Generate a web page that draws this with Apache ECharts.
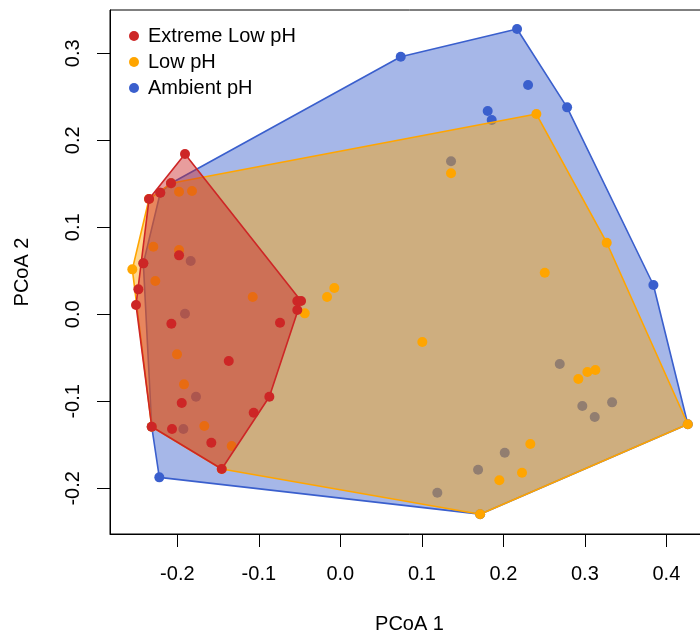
<!DOCTYPE html>
<html><head><meta charset="utf-8">
<script src="https://cdn.jsdelivr.net/npm/echarts@6/dist/echarts.min.js"></script>
<style>html,body{margin:0;padding:0;background:#fff;overflow:hidden}#c{width:709px;height:635px}</style>
</head><body><div id="c"></div>
<script>
const groupNames = ['Extreme Low pH', 'Low pH', 'Ambient pH'];

const extremeLowPH = [
  [-0.1906, 0.1843], [-0.2077, 0.1506], [-0.2209, 0.1398], [-0.2347, 0.1325],
  [-0.1979, 0.0678], [-0.2417, 0.0586], [-0.2478, 0.0287], [-0.2507, 0.0107],
  [-0.2073, -0.0108], [-0.0528, 0.0153], [-0.0482, 0.0153], [-0.0528, 0.0049],
  [-0.0740, -0.0097], [-0.1369, -0.0537], [-0.0871, -0.0947], [-0.1063, -0.1131],
  [-0.1946, -0.1020], [-0.2314, -0.1292], [-0.2065, -0.1318], [-0.1583, -0.1476],
  [-0.1455, -0.1778]
];

const lowPH = [
  [-0.2077, 0.1506], [-0.2347, 0.1325], [-0.2314, -0.1292], [-0.1455, -0.1778],
  [-0.1979, 0.1409], [-0.1820, 0.1417], [-0.2294, 0.0777], [-0.1979, 0.0739],
  [-0.2552, 0.0517], [-0.2270, 0.0383], [-0.1075, 0.0199], [-0.2004, -0.0460],
  [-0.1918, -0.0805], [-0.1669, -0.1284], [-0.1333, -0.1514], [-0.0437, 0.0011],
  [-0.0163, 0.0199], [-0.0074, 0.0302], [0.1358, 0.1621], [0.2405, 0.2302],
  [0.3268, 0.0823], [0.2508, 0.0478], [0.1006, -0.0318], [0.2920, -0.0744],
  [0.3031, -0.0663], [0.3129, -0.0640], [0.2331, -0.1491], [0.2229, -0.1821],
  [0.1951, -0.1908], [0.1715, -0.2297], [0.4263, -0.1264]
];

const ambientPH = [
  [-0.2077, 0.1506], [-0.2209, 0.1398], [-0.2417, 0.0586], [-0.2314, -0.1292],
  [0.1715, -0.2297], [0.4263, -0.1264],
  [0.2168, 0.3279], [0.0741, 0.2961], [0.2303, 0.2636], [0.2782, 0.2379],
  [0.1808, 0.2337], [0.1857, 0.2233], [0.3841, 0.0337], [0.1358, 0.1759],
  [0.2692, -0.0571], [0.2969, -0.1054], [0.3121, -0.1180], [0.3334, -0.1012],
  [0.2017, -0.1591], [0.1690, -0.1786], [0.1190, -0.2050],
  [-0.1836, 0.0613], [-0.1906, 0.0007], [-0.1771, -0.0947], [-0.1926, -0.1318],
  [-0.2221, -0.1874]
];

const xTicks = [-0.2, -0.1, 0.0, 0.1, 0.2, 0.3, 0.4];
const yTicks = [-0.2, -0.1, 0.0, 0.1, 0.2, 0.3];
const xRange = [-0.2826, 0.4523];
const yRange = [-0.2525, 0.3498];

const FONT = '"Liberation Sans", Arial, sans-serif';
const colors = ['#CD2626', '#FFA500', '#3A5FCD'];
const fills = ['rgba(205,38,38,0.45)', 'rgba(255,165,0,0.45)', 'rgba(58,95,205,0.45)'];
const groups = [extremeLowPH, lowPH, ambientPH];

function convexHull(pts) {
  const p = pts.slice().sort((a, b) => a[0] - b[0] || a[1] - b[1]);
  const cross = (o, a, b) => (a[0] - o[0]) * (b[1] - o[1]) - (a[1] - o[1]) * (b[0] - o[0]);
  const lower = [], upper = [];
  for (const q of p) {
    while (lower.length >= 2 && cross(lower[lower.length - 2], lower[lower.length - 1], q) <= 0) lower.pop();
    lower.push(q);
  }
  for (let i = p.length - 1; i >= 0; i--) {
    const q = p[i];
    while (upper.length >= 2 && cross(upper[upper.length - 2], upper[upper.length - 1], q) <= 0) upper.pop();
    upper.push(q);
  }
  return lower.slice(0, -1).concat(upper.slice(0, -1));
}

// drawing order: Ambient (bottom), Low, Extreme (top)
const drawOrder = [2, 1, 0];
const series = [];
drawOrder.forEach((gi, k) => {
  const hull = convexHull(groups[gi]);
  series.push({
    type: 'custom',
    name: 'hull_' + gi,
    coordinateSystem: 'cartesian2d',
    z: 2 + k * 2,
    silent: true,
    clip: false,
    data: [[hull[0][0], hull[0][1]]],
    renderItem: function (params, api) {
      return {
        type: 'polygon',
        shape: { points: hull.map(p => api.coord(p)) },
        style: { fill: fills[gi], stroke: colors[gi], lineWidth: 1.6, lineJoin: 'round' }
      };
    }
  });
  series.push({
    type: 'scatter',
    name: groupNames[gi],
    z: 3 + k * 2,
    symbol: 'circle',
    symbolSize: 10,
    itemStyle: { color: colors[gi], opacity: 1 },
    emphasis: { disabled: true },
    data: groups[gi]
  });
});

const chart = echarts.init(document.getElementById('c'), null, { renderer: 'canvas' });
chart.setOption({
  animation: false,
  backgroundColor: '#fff',
  grid: { left: 110, right: 0, top: 10, bottom: 101, outerBoundsMode: 'none', containLabel: false, show: true, borderColor: '#000', borderWidth: 1, backgroundColor: 'transparent' },
  legend: {
    data: groupNames,
    orient: 'vertical',
    left: 124,
    top: 21,
    itemWidth: 10,
    itemHeight: 10,
    itemGap: 6,
    icon: 'circle',
    selectedMode: false,
    textStyle: { fontSize: 20, lineHeight: 20, color: '#000', fontFamily: FONT, padding: [0, 0, 0, 4] }
  },
  xAxis: {
    type: 'value',
    min: xRange[0],
    max: xRange[1],
    name: 'PCoA 1',
    nameLocation: 'middle',
    nameGap: 90,
    nameTextStyle: { fontSize: 20, color: '#000', fontFamily: FONT, verticalAlign: 'middle', lineHeight: 20 },
    axisLine: { show: true, onZero: false, lineStyle: { color: '#000', width: 1 } },
    axisTick: { show: true, inside: false, length: 13, customValues: xTicks, lineStyle: { color: '#000', width: 1 } },
    axisLabel: {
      show: true, customValues: xTicks, margin: 40, fontSize: 20, color: '#000', fontFamily: FONT,
      verticalAlign: 'middle', lineHeight: 20,
      formatter: v => v.toFixed(1)
    },
    splitLine: { show: false }
  },
  yAxis: {
    type: 'value',
    min: yRange[0],
    max: yRange[1],
    name: 'PCoA 2',
    nameLocation: 'middle',
    nameGap: 88,
    nameRotate: 90,
    nameTextStyle: { fontSize: 20, color: '#000', fontFamily: FONT, verticalAlign: 'middle', lineHeight: 20 },
    axisLine: { show: true, onZero: false, lineStyle: { color: '#000', width: 1 } },
    axisTick: { show: true, inside: false, length: 13, customValues: yTicks, lineStyle: { color: '#000', width: 1 } },
    axisLabel: {
      show: true, customValues: yTicks, margin: 37, rotate: 90, fontSize: 20, color: '#000', fontFamily: FONT,
      align: 'center', verticalAlign: 'middle', lineHeight: 20,
      formatter: v => v.toFixed(1)
    },
    splitLine: { show: false }
  },
  series: series
});
</script>
</body></html>
